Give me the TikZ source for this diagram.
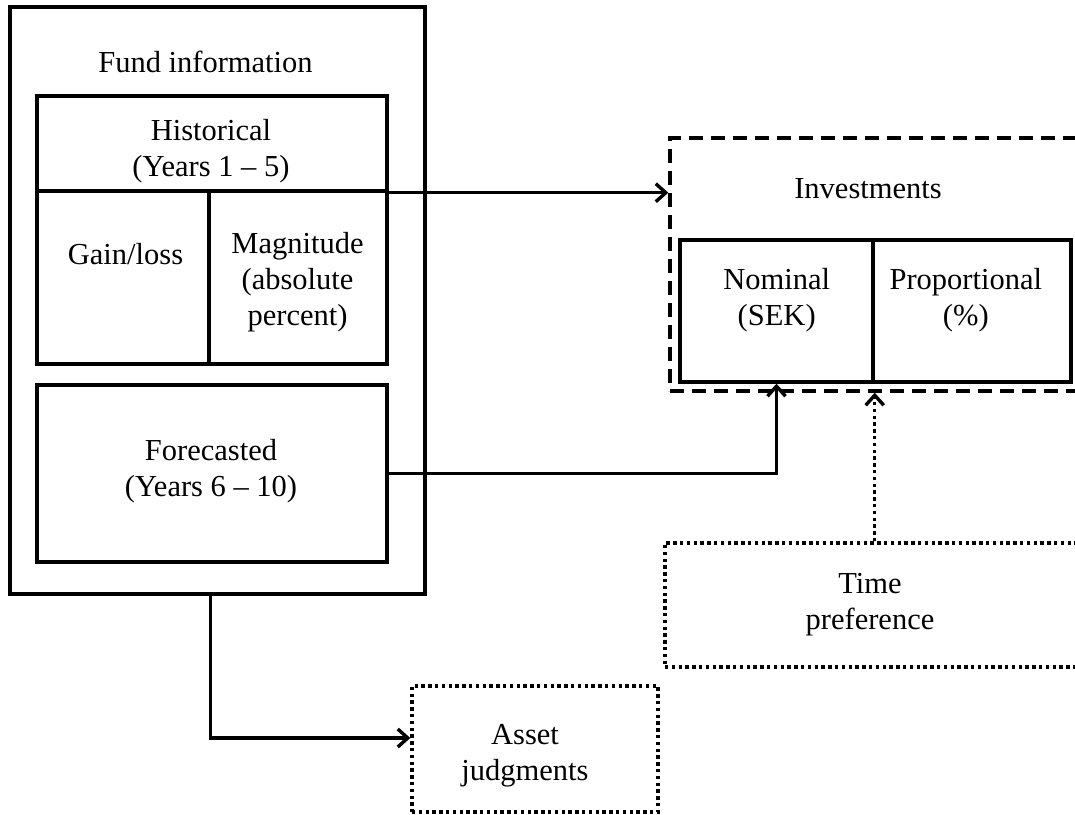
\documentclass[tikz,border=0pt]{standalone}
\usepackage{fontspec}
\setmainfont{Liberation Serif}
\usetikzlibrary{arrows.meta}

\tikzset{
  lbl/.style={inner sep=0pt, align=center, font=\fontsize{30.5}{36}\selectfont},
  solidbox/.style={draw, line width=3.4pt, rectangle, inner sep=0pt},
  dashbox/.style={draw, line width=3.4pt, rectangle, inner sep=0pt, dash pattern=on 14pt off 8pt},
  dotbox/.style={draw, line width=3.4pt, rectangle, inner sep=0pt, dash pattern=on 3.4pt off 3.4pt},
  flow/.style={line width=3.4pt, -{Straight Barb[length=10pt,width=18pt,line width=3.4pt]}},
  dotflow/.style={flow, dash pattern=on 3.4pt off 3.4pt}
}

\begin{document}
\begin{tikzpicture}[x=1pt, y=-1pt]
\useasboundingbox (0,0) rectangle (1075,814);
\clip (0,0) rectangle (1075,814);

% Fund information block
\node[solidbox, minimum width=415pt, minimum height=587pt] (fund) at (217.5,300.5) {};
\node[lbl] (fundlbl) at (205.5,62) {Fund information};

% Historical: header plus two sub-cells
\node[solidbox, minimum width=350pt, minimum height=95pt] (hdr) at (212,143.5) {};
\node[lbl] (histlbl) at (211,151.5) {Historical\\(Years 1 – 5)};
\node[solidbox, minimum width=172pt, minimum height=173pt] (gain) at (123,277.5) {};
\node[lbl] (gainlbl) at (125.5,254) {Gain/loss};
\node[solidbox, minimum width=178pt, minimum height=173pt] (mag) at (298,277.5) {};
\node[lbl] (maglbl) at (297.5,282) {Magnitude\\(absolute\\percent)};

% Forecasted
\node[solidbox, minimum width=350pt, minimum height=177pt] (fore) at (212,473.5) {};
\node[lbl] (forelbl) at (211,471.5) {Forecasted\\(Years 6 – 10)};

% Investments block
\node[dashbox, minimum width=440pt, minimum height=253pt] (inv) at (890,264.5) {};
\node[lbl] (invlbl) at (868,188.5) {Investments};
\node[solidbox, minimum width=193pt, minimum height=142pt] (nom) at (776.5,311) {};
\node[lbl] (nomlbl) at (776.7,300.5) {Nominal\\(SEK)};
\node[solidbox, minimum width=198pt, minimum height=142pt] (prop) at (972,311) {};
\node[lbl] (proplbl) at (965.8,300) {Proportional\\(\%)};

% Time preference
\node[dotbox, minimum width=430pt, minimum height=124pt] (time) at (880,605) {};
\node[lbl] (timelbl) at (870,605) {Time\\preference};

% Asset judgments
\node[dotbox, minimum width=246pt, minimum height=126pt] (asset) at (535,749) {};
\node[lbl] (assetlbl) at (525,756) {Asset\\judgments};

% Connectors
\draw[flow] (hdr.south east) -- (hdr.south east -| inv.west);
\draw[flow] (fore.east) -| (nom.south);
\draw[dotflow] (time.north -| nom.east) -- (inv.south -| nom.east);
\draw[flow] (fund.south -| gain.east) |- ([yshift=11pt]asset.west);
\end{tikzpicture}
\end{document}
